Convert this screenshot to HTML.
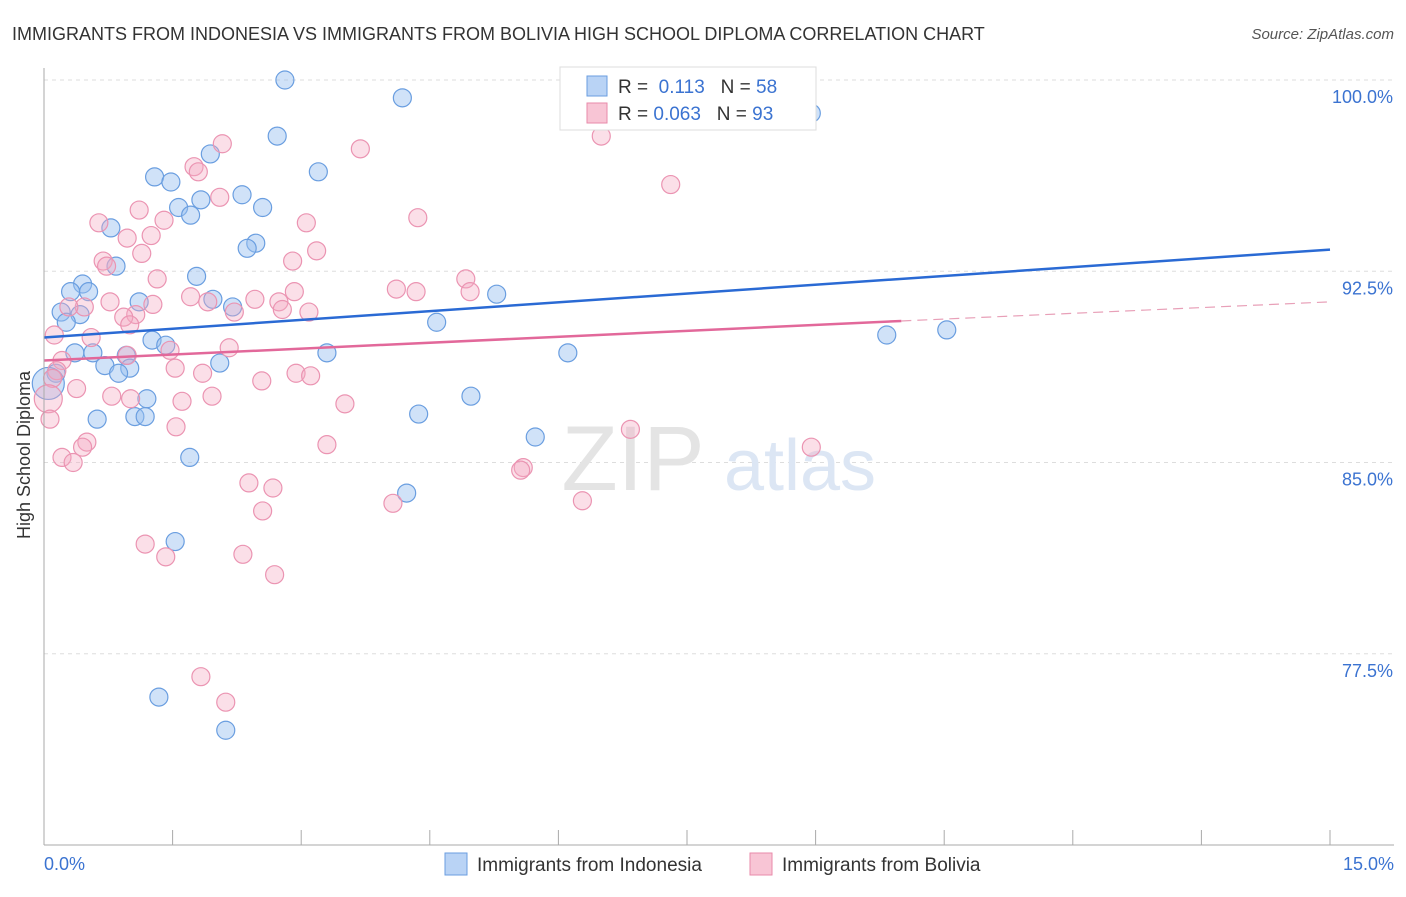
<!DOCTYPE html>
<html><head><meta charset="utf-8"><style>
body{margin:0;background:#fff;font-family:"Liberation Sans",sans-serif}
svg text{font-family:"Liberation Sans",sans-serif}
</style></head><body>
<svg width="1406" height="892" xmlns="http://www.w3.org/2000/svg">
<text x="12" y="40" font-size="18" fill="#333">IMMIGRANTS FROM INDONESIA VS IMMIGRANTS FROM BOLIVIA HIGH SCHOOL DIPLOMA CORRELATION CHART</text>
<text x="1394" y="39" font-size="15" fill="#555" text-anchor="end" font-style="italic">Source: ZipAtlas.com</text>
<g id="grid"></g>
<g>
<text x="633" y="490" font-size="92" fill="#e4e4e4" text-anchor="middle" font-family="Liberation Serif">ZIP</text>
<text x="800" y="490" font-size="72" fill="#dce6f4" text-anchor="middle">atlas</text>
</g>
<g id="pts"></g>
<g id="lines"></g>
<line x1="44" y1="68" x2="44" y2="845" stroke="#aaa"/>
<line x1="44" y1="845" x2="1394" y2="845" stroke="#aaa"/>
<g id="xt"></g>
<text x="30" y="455" font-size="18" fill="#333" text-anchor="middle" transform="rotate(-90 30 455)">High School Diploma</text>
<text x="44" y="870" font-size="18" fill="#3b73d1">0.0%</text>
<text x="1394" y="870" font-size="18" fill="#3b73d1" text-anchor="end">15.0%</text>
<g>
<rect x="560" y="67" width="256" height="63" fill="#fff" stroke="#ddd"/>
<rect x="587" y="76" width="20" height="20" fill="#b9d3f5" stroke="#6a9ee0"/>
<rect x="587" y="103" width="20" height="20" fill="#f8c5d5" stroke="#e88aaa"/>
<text x="618" y="93" font-size="19" fill="#333">R = <tspan fill="#3b73d1">&#160;0.113</tspan>&#160;&#160;&#160;N = <tspan fill="#3b73d1">58</tspan></text>
<text x="618" y="120" font-size="19" fill="#333">R = <tspan fill="#3b73d1">0.063</tspan>&#160;&#160;&#160;N = <tspan fill="#3b73d1">93</tspan></text>
</g>
<g>
<rect x="445" y="853" width="22" height="22" fill="#b9d3f5" stroke="#6a9ee0"/>
<text x="477" y="871" font-size="19" fill="#333">Immigrants from Indonesia</text>
<rect x="750" y="853" width="22" height="22" fill="#f8c5d5" stroke="#e88aaa"/>
<text x="782" y="871" font-size="19" fill="#333">Immigrants from Bolivia</text>
</g>
</svg>
<script>
const yTicks=[100,92.5,85,77.5];
const yTickLabels=["100.0%","92.5%","85.0%","77.5%"];
const xTicks=[0,1.5,3,4.5,6,7.5,9,10.5,12,13.5,15];
const blueX=[2.81,4.18,8.95,2.72,1.94,3.20,1.29,1.48,2.31,1.83,2.55,1.57,1.71,0.78,2.47,2.37,0.84,1.78,0.45,0.31,0.52,5.28,1.11,1.97,2.20,0.20,0.42,0.26,4.58,9.83,10.53,1.26,1.42,3.30,6.11,0.36,0.57,0.96,0.71,2.05,1.00,0.87,0.14,0.05,1.20,4.98,0.62,1.06,1.18,4.37,5.73,1.70,4.23,1.53,1.34,2.12];
const blueY=[100.0,99.3,98.7,97.8,97.1,96.4,96.2,96.0,95.5,95.3,95.0,95.0,94.7,94.2,93.6,93.4,92.7,92.3,92.0,91.7,91.7,91.6,91.3,91.4,91.1,90.9,90.8,90.5,90.5,90.0,90.2,89.8,89.6,89.3,89.3,89.3,89.3,89.2,88.8,88.9,88.7,88.5,88.5,88.1,87.5,87.6,86.7,86.8,86.8,86.9,86.0,85.2,83.8,81.9,75.8,74.5];
const pinkX=[2.08,6.50,3.69,1.75,1.80,7.31,2.05,1.11,3.06,4.36,1.40,0.64,1.25,0.97,3.18,1.14,0.69,0.73,2.90,1.32,4.92,4.11,4.34,4.97,1.71,2.92,0.77,1.91,2.46,2.74,2.78,1.27,3.09,1.07,0.47,0.29,0.93,1.00,2.22,0.12,0.55,2.16,1.47,0.97,0.21,1.53,1.85,2.94,3.11,0.15,0.10,2.54,0.38,0.79,1.01,1.61,1.96,3.51,0.05,0.07,1.54,6.84,8.95,0.50,0.45,3.30,0.21,0.34,5.59,5.56,2.39,2.67,4.07,6.28,2.55,1.18,1.42,2.32,2.69,1.83,2.12];
const pinkY=[97.5,97.8,97.3,96.6,96.4,95.9,95.4,94.9,94.4,94.6,94.5,94.4,93.9,93.8,93.3,93.2,92.9,92.7,92.9,92.2,92.2,91.8,91.7,91.7,91.5,91.7,91.3,91.3,91.4,91.3,91.0,91.2,90.9,90.8,91.1,91.1,90.7,90.4,90.9,90.0,89.9,89.5,89.4,89.2,89.0,88.7,88.5,88.5,88.4,88.6,88.3,88.2,87.9,87.6,87.5,87.4,87.6,87.3,87.5,86.7,86.4,86.3,85.6,85.8,85.6,85.7,85.2,85.0,84.8,84.7,84.2,84.0,83.4,83.5,83.1,81.8,81.3,81.4,80.6,76.6,75.6];
const blueTrend=[[0,89.9],[15,93.35]];
const pinkTrend=[[0,89.0],[10,90.55],[15,91.3]];
const NS="http://www.w3.org/2000/svg";
const sx=v=>44+v*(1286/15);
const sy=v=>845-(v-70)*25.5;
function mk(t,a,p){const e=document.createElementNS(NS,t);for(const k in a)e.setAttribute(k,a[k]);document.getElementById(p).appendChild(e);return e;}
yTicks.forEach((t,i)=>{
 const l=mk('line',{x1:44,x2:1394,y1:sy(t),y2:sy(t),stroke:'#ddd','stroke-dasharray':'4 4'},'grid');
 
 
 const tx=mk('text',{x:1393,y:sy(t)+23,'font-size':18,fill:'#3b73d1','text-anchor':'end'},'grid');
 tx.textContent=yTickLabels[i];
 
 
});
xTicks.forEach(t=>{
 const l=mk('line',{x1:sx(t),x2:sx(t),y1:830,y2:845,stroke:'#aaa'},'xt');
 
 
});
blueX.forEach((x,i)=>{
 const r=(i==43)?16:9;
 const c=mk('circle',{cx:sx(x),cy:sy(blueY[i]),r:r,fill:'rgba(150,190,240,0.45)',stroke:'#6a9ee0','stroke-width':1.2},'pts');
 
 
});
pinkX.forEach((x,i)=>{
 const r=(i==58)?14:9;
 const c=mk('circle',{cx:sx(x),cy:sy(pinkY[i]),r:r,fill:'rgba(245,170,195,0.38)',stroke:'#eb94b2','stroke-width':1.2},'pts');
 
 
});
let b=mk('line',{x1:sx(blueTrend[0][0]),y1:sy(blueTrend[0][1]),x2:sx(blueTrend[1][0]),y2:sy(blueTrend[1][1]),stroke:'#2a6ad4','stroke-width':2.5},'lines');


let p=mk('line',{x1:sx(pinkTrend[0][0]),y1:sy(pinkTrend[0][1]),x2:sx(pinkTrend[1][0]),y2:sy(pinkTrend[1][1]),stroke:'#e2689a','stroke-width':2.5},'lines');


let pd=mk('line',{x1:sx(pinkTrend[1][0]),y1:sy(pinkTrend[1][1]),x2:sx(pinkTrend[2][0]),y2:sy(pinkTrend[2][1]),stroke:'#e8a0b8','stroke-width':1.2,'stroke-dasharray':'10 6'},'lines');


</script>
</body></html>
